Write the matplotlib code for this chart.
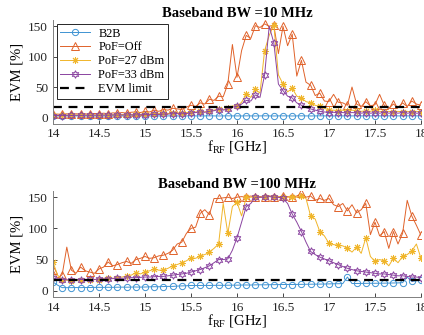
import numpy as np
from matplotlib import pyplot as plt

plt.rcParams['font.family'] = ['Liberation Serif', 'DejaVu Serif']

freq = np.linspace(14, 18, 81)
evm_limit = 17.5

# Baseband BW = 10 MHz
b2b_10 = [2.5, 2.4, 2.6, 2.5, 2.4, 2.5, 2.6, 2.5, 2.4, 2.5, 2.6, 2.5, 2.4, 2.5, 2.6, 2.5, 2.4, 2.5, 2.6, 2.5,
          2.5, 2.4, 2.6, 2.5, 2.4, 2.5, 2.6, 2.5, 2.4, 2.5, 2.6, 2.5, 2.4, 2.5, 2.6, 2.5, 2.4, 2.5, 2.6, 2.5,
          2.5, 2.4, 2.6, 2.5, 2.4, 2.5, 2.6, 2.5, 2.4, 2.5, 2.6, 2.5, 2.4, 2.5, 2.6, 2.5, 2.4, 2.5, 2.6, 2.5,
          2.5, 2.4, 2.6, 2.5, 2.4, 2.5, 2.6, 2.5, 2.4, 2.5, 2.6, 2.5, 2.4, 2.5, 2.6, 2.5, 2.4, 2.5, 2.6, 2.5, 2.5]
off_10 = [5, 5.5, 5, 6, 5, 6, 5.5, 6, 5, 6.5, 6, 7, 6, 7.5, 7, 8, 7, 8.5, 9, 8,
          10, 9, 12, 10, 13, 12, 15, 14, 13, 17, 20, 18, 24, 22, 30, 28, 35, 34, 55, 120,
          66, 110, 135, 130, 151, 148, 154, 150, 152, 105, 150, 118, 137, 68, 94, 58, 53, 36, 40, 27,
          26, 38, 25, 24, 20, 50, 22, 18, 26, 19, 21, 38, 20, 15, 22, 16, 24, 18, 27, 22, 20]
p27_10 = [3.5, 3.8, 3.5, 4, 3.6, 4, 3.8, 4.2, 4, 4.2, 4, 4.5, 4.2, 4.6, 4.4, 4.8, 4.5, 5, 5, 5.2,
          5.5, 5.5, 6, 6, 6.5, 6.5, 7, 7.5, 7, 8, 8.5, 9, 10, 9, 11, 12, 14, 13, 15, 19,
          18, 25, 38, 33, 46, 40, 110, 135, 152, 70, 55, 42, 48, 35, 32, 26, 24, 20, 18, 15,
          12, 12, 11, 12, 10, 12, 11, 10, 11, 10, 12, 10, 9, 10, 9, 10, 9, 10, 9, 10, 9]
p33_10 = [3, 3.3, 3, 3.5, 3.2, 3.5, 3.3, 3.6, 3.4, 3.7, 3.5, 3.8, 3.6, 4, 3.8, 4, 3.9, 4.2, 4.2, 4.4,
          4.5, 4.6, 5, 5, 5.5, 5.5, 6, 6.2, 6, 6.5, 7, 8, 9, 8.5, 10, 11, 13, 12, 14, 17,
          18, 22, 28, 27, 37, 33, 70, 150, 123, 55, 44, 35, 32, 24, 20, 16, 14, 12, 10, 9,
          8, 8.5, 7.5, 8, 7, 8, 7.5, 7, 8, 7, 7.5, 7, 8, 7, 7.5, 7, 8, 7, 7.5, 7, 7]

# Baseband BW = 100 MHz
b2b_100 = [14, 9, 5, 5, 5, 5.2, 5, 5.3, 5.2, 5.4, 5.5, 5.4, 5.6, 5.5, 5.7, 5.8, 5.7, 5.9, 6, 5.9,
           6, 6.3, 6.5, 6.4, 6.8, 7, 7, 7.5, 7.8, 8, 8.5, 8.4, 8.5, 8.6, 8.5, 8.7, 8.8, 8.7, 8.9, 9,
           9, 9.2, 9.3, 9.2, 9.5, 9.6, 9.5, 9.7, 9.8, 9.9, 10, 10.1, 10, 10.2, 10.3, 10.4, 10.5, 10.6, 10.7, 10.8,
           11, 11.2, 11.3, 11.5, 22, 11.6, 11.7, 11.8, 11.9, 12, 12, 12.1, 12.2, 12.3, 12.5, 12.6, 13, 22, 15, 16, 17]
off_100 = [33, 20, 26, 70, 33, 28, 38, 32, 30, 28, 35, 38, 46, 40, 42, 45, 47, 44, 50, 52,
           55, 52, 53, 56, 57, 60, 65, 75, 78, 92, 100, 102, 124, 130, 122, 148, 148, 149, 150, 148,
           150, 151, 150, 152, 150, 151, 150, 152, 151, 150, 152, 151, 150, 152, 156, 150, 152, 145, 148, 145,
           148, 138, 135, 140, 128, 138, 125, 130, 140, 90, 110, 88, 95, 68, 95, 75, 92, 145, 120, 105, 89]
p27_100 = [46, 25, 18, 17, 16, 17, 17, 18, 17, 18, 18, 20, 21, 20, 21, 22, 24, 25, 29, 27,
           30, 32, 35, 33, 33, 36, 40, 42, 45, 48, 53, 52, 56, 58, 62, 68, 75, 140, 92, 135,
           142, 120, 150, 150, 151, 150, 150, 152, 150, 151, 150, 150, 151, 150, 152, 148, 120, 115, 95, 88,
           76, 74, 73, 72, 68, 62, 70, 60, 85, 55, 47, 50, 48, 40, 52, 45, 55, 58, 64, 75, 52]
p33_100 = [20, 19, 18, 17.5, 18, 17.5, 18, 18, 18.5, 18, 19, 19, 19, 19.5, 20, 20, 20.5, 21, 21, 21.5,
           22, 22, 22.5, 23, 23, 24, 25, 26, 27, 28, 30, 32, 34, 37, 40, 45, 50, 50, 51, 65,
           85, 110, 135, 140, 150, 150, 150, 151, 150, 150, 148, 140, 123, 110, 95, 78, 63, 58, 54, 51,
           48, 45, 42, 39, 36, 34, 32, 31, 30, 29, 28, 27, 27, 26, 25, 24, 24, 23, 22, 22, 21]

labels = ['B2B', 'PoF=Off', 'PoF=27 dBm', 'PoF=33 dBm']
colors = ['#3f93d2', '#e0622a', '#f0b52a', '#8a44a0']
markers = ['o', '^', (8, 2, 0), (6, 1, 0)]
msizes = [4.5, 5.5, 5, 5.5]


def draw_panel(ax, series, title, legend=False):
    for y, lab, c, m, ms in zip(series, labels, colors, markers, msizes):
        ax.plot(freq, y, color=c, lw=0.7, marker=m, markevery=2, ms=ms,
                mfc='none', mec=c, mew=0.7, label=lab)
    ax.plot([14, 18], [evm_limit, evm_limit], 'k--', lw=1.6, dashes=(4, 3), label='EVM limit')
    ax.set_xlim(14, 18)
    ax.set_ylim(-10, 160)
    ax.set_xticks(np.arange(14, 18.01, 0.5))
    ax.set_xticklabels(['14', '14.5', '15', '15.5', '16', '16.5', '17', '17.5', '18'])
    ax.set_yticks([0, 50, 100, 150])
    ax.tick_params(direction='in', length=3, width=0.6, labelsize=9.5, colors='#262626')
    for s in ['top', 'right']:
        ax.spines[s].set_visible(False)
    for s in ['left', 'bottom']:
        ax.spines[s].set_color('#808080')
        ax.spines[s].set_linewidth(0.7)
    ax.set_title(title, fontsize=10.5, fontweight='bold', pad=2)
    ax.set_xlabel('f$_{\\mathregular{RF}}$ [GHz]', fontsize=10.5, labelpad=-1)
    ax.set_ylabel('EVM [%]', fontsize=10.5, labelpad=3)
    if legend:
        leg = ax.legend(loc='upper left', fontsize=8.8, handlelength=2.4, handletextpad=0.7,
                        labelspacing=0.15, borderpad=0.3, borderaxespad=0.3,
                        fancybox=False, framealpha=1)
        leg.get_frame().set_edgecolor('#262626')
        leg.get_frame().set_linewidth(0.7)


fig = plt.figure(figsize=(4.24, 3.35), dpi=100)
ax1 = fig.add_axes([53 / 424, 1 - 123.5 / 335, 368 / 424, 103.3 / 335])
ax2 = fig.add_axes([53 / 424, 1 - 297 / 335, 368 / 424, 106 / 335])

draw_panel(ax1, [b2b_10, off_10, p27_10, p33_10], 'Baseband BW =10 MHz', legend=True)
draw_panel(ax2, [b2b_100, off_100, p27_100, p33_100], 'Baseband BW =100 MHz')

fig.savefig('out.png', dpi=100)
